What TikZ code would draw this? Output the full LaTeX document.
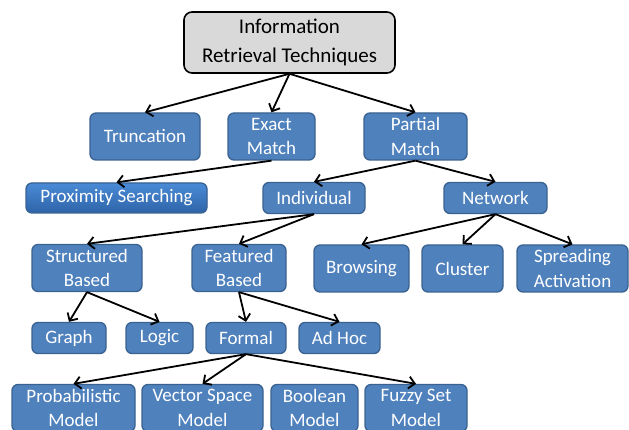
\documentclass[tikz,border=0pt]{standalone}
\usepackage{fontspec}
\setmainfont{Carlito}
\usepackage{xcolor}
\usepackage{tikz}
\usetikzlibrary{arrows.meta,shapes.misc}

\definecolor{boxblue}{HTML}{4F81BD}
\definecolor{boxedge}{HTML}{3A6291}
\definecolor{proxtop}{HTML}{4A8AD6}
\definecolor{proxbot}{HTML}{2E64A8}
\definecolor{rootgray}{HTML}{D9D9D9}

\begin{document}
\begin{tikzpicture}[
  x=1pt, y=-1pt,
  font=\fontsize{19}{24.5}\selectfont,
  box/.style={draw=boxedge, line width=1.3pt, rounded corners=6pt,
              fill=boxblue, text=white, align=center, inner sep=0pt,
              minimum width=#1},
  box/.default=90pt,
  tall/.style={minimum height=47pt},
  flat/.style={minimum height=31pt},
  rootbox/.style={draw=black, line width=1.6pt, rounded corners=8pt,
                  fill=rootgray, align=center, inner sep=0pt,
                  minimum width=211pt, minimum height=61pt,
                  font=\fontsize{21}{29}\selectfont},
  arr/.style={-{Straight Barb[length=6pt, width=12pt]}, line width=1.8pt},
]
\useasboundingbox (0,0) rectangle (629,430);

%% --- Nodos ---
\node[rootbox] (irt) at (289.5,42.5) {Information\\Retrieval Techniques};

\node[box=110pt, tall] (trunc)   at (145,136.5)   {Truncation};
\node[box=87pt,  tall] (exact)   at (271.5,136.5) {Exact\\Match};
\node[box=103pt, tall] (partial) at (415.5,136.5) {Partial\\Match};

\node[box=181pt, minimum height=30pt, top color=proxtop, bottom color=proxbot]
      (prox) at (116.5,198) {Proximity Searching};
\node[box=102pt, flat] (indiv)   at (314,198)     {Individual};
\node[box=103pt, flat] (network) at (495.5,198)   {Network};

\node[box=110pt, tall] (struct)  at (87,268)      {Structured\\Based};
\node[box=94pt,  tall] (feat)    at (239,268)     {Featured\\Based};
\node[box=95pt,  tall] (browse)  at (361.5,268.5) {Browsing};
\node[box=81pt,  tall] (cluster) at (462.5,268.5) {Cluster};
\node[box=111pt, tall] (spread)  at (572.5,268.5) {Spreading\\Activation};

\node[box=74pt, flat] (graph)  at (69,338)    {Graph};
\node[box=67pt, flat] (logic)  at (159.5,338) {Logic};
\node[box=80pt, flat] (formal) at (246,338)   {Formal};
\node[box=81pt, flat] (adhoc)  at (339.5,338) {Ad Hoc};

\node[box=123pt, tall] (prob)   at (73.5,408)  {Probabilistic\\Model};
\node[box=121pt, tall] (vector) at (202.5,408) {Vector Space\\Model};
\node[box=87pt,  tall] (bool)   at (314.5,408) {Boolean\\Model};
\node[box=102pt, tall] (fuzzy)  at (416,408)   {Fuzzy Set\\Model};

%% --- Flechas ---
\draw[arr] (irt.south) -- (trunc.north);
\draw[arr] (irt.south) -- (exact.north);
\draw[arr] (irt.south) -- (partial.north);

\draw[arr] (exact.south) -- (prox.north);
\draw[arr] (partial.south) -- (indiv.north);
\draw[arr] (partial.south) -- (network.north);

\draw[arr] (indiv.south) -- (struct.north);
\draw[arr] (indiv.south) -- (feat.north);
\draw[arr] (network.south) -- (browse.north);
\draw[arr] (network.south) -- (cluster.north);
\draw[arr] (network.south) -- (spread.north);

\draw[arr] (struct.south) -- (graph.north);
\draw[arr] (struct.south) -- (logic.north);
\draw[arr] (feat.south) -- (formal.north);
\draw[arr] (feat.south) -- (adhoc.north);

\draw[arr] (formal.south) -- (prob.north);
\draw[arr] (formal.south) -- (vector.north);
\draw[arr] (formal.south) -- (fuzzy.north);

\end{tikzpicture}
\end{document}
